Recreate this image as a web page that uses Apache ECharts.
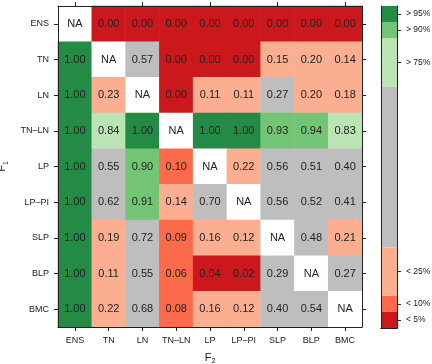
<!DOCTYPE html>
<html>
<head>
<meta charset="utf-8">
<script src="https://cdn.jsdelivr.net/npm/echarts@6/dist/echarts.min.js"></script>
<style>
  html, body { margin: 0; padding: 0; background: #fff; }
  #main { width: 432px; height: 364px; }
</style>
</head>
<body>
<div id="main"></div>
<script>
// F1 (rows, top to bottom) and F2 (columns, left to right)
var factors = ['ENS', 'TN', 'LN', 'TN\u2013LN', 'LP', 'LP\u2013PI', 'SLP', 'BLP', 'BMC'];

// one array per row of the matrix, null = NA on the diagonal
var rowENS  = [null, 0.00, 0.00, 0.00, 0.00, 0.00, 0.00, 0.00, 0.00];
var rowTN   = [1.00, null, 0.57, 0.00, 0.00, 0.00, 0.15, 0.20, 0.14];
var rowLN   = [1.00, 0.23, null, 0.00, 0.11, 0.11, 0.27, 0.20, 0.18];
var rowTNLN = [1.00, 0.84, 1.00, null, 1.00, 1.00, 0.93, 0.94, 0.83];
var rowLP   = [1.00, 0.55, 0.90, 0.10, null, 0.22, 0.56, 0.51, 0.40];
var rowLPPI = [1.00, 0.62, 0.91, 0.14, 0.70, null, 0.56, 0.52, 0.41];
var rowSLP  = [1.00, 0.19, 0.72, 0.09, 0.16, 0.12, null, 0.48, 0.21];
var rowBLP  = [1.00, 0.11, 0.55, 0.06, 0.04, 0.02, 0.29, null, 0.27];
var rowBMC  = [1.00, 0.22, 0.68, 0.08, 0.16, 0.12, 0.40, 0.54, null];
var matrix = [rowENS, rowTN, rowLN, rowTNLN, rowLP, rowLPPI, rowSLP, rowBLP, rowBMC];

// colour key, bottom to top
var breaks    = [0, 0.05, 0.10, 0.25, 0.75, 0.90, 0.95, 1];
var keyColors = ['#cb181d', '#fb6a4a', '#fcae91', '#bebebe', '#bae4b3', '#74c476', '#238b45'];
var keyLabels = ['< 5%', '< 10%', '< 25%', '', '> 75%', '> 90%', '> 95%'];

var ink = '#222';
var font = 'Liberation Sans, Arial, sans-serif';

function cellColor(v) {
    if (v < 0.05) return keyColors[0];
    if (v <= 0.10) return keyColors[1];
    if (v < 0.25) return keyColors[2];
    if (v <= 0.75) return keyColors[3];
    if (v < 0.895) return keyColors[4];
    if (v < 0.95) return keyColors[5];
    return keyColors[6];
}

var cells = [];
matrix.forEach(function (row, r) {
    row.forEach(function (v, c) {
        cells.push({
            value: [c, r, v === null ? 0 : v],
            na: v === null,
            itemStyle: { color: v === null ? '#ffffff' : cellColor(v) }
        });
    });
});

// colour key as stacked bars
var keyTicks = [], keyNames = {};
var keySeries = keyColors.map(function (col, i) {
    var mid = (breaks[i] + breaks[i + 1]) / 2;
    if (keyLabels[i]) {
        keyTicks.push(mid);
        keyNames[mid.toFixed(4)] = keyLabels[i];
    }
    return {
        type: 'bar', stack: 'key', xAxisIndex: 2, yAxisIndex: 2,
        barWidth: '100%', silent: true,
        itemStyle: { color: col },
        data: [breaks[i + 1] - breaks[i]]
    };
});

var lineStyle = { color: ink, width: 1 };
var tick = { show: true, alignWithLabel: true, length: 4, lineStyle: lineStyle };
var nameRich = { a: { fontSize: 11, color: ink }, b: { fontSize: 7, color: ink, padding: [8, 0, 0, 0] } };

var myChart = echarts.init(document.getElementById('main'));
var option = {
    animation: false,
    textStyle: { fontFamily: font },
    grid: [
        { left: 58, top: 6, width: 304, height: 321, outerBoundsMode: 'none', containLabel: false },
        { left: 381, top: 6, width: 16, height: 322, outerBoundsMode: 'none', containLabel: false }
    ],
    xAxis: [
        {
            type: 'category', gridIndex: 0, position: 'bottom', data: factors, z: 5,
            axisLine: { show: true, lineStyle: lineStyle }, axisTick: tick,
            axisLabel: { fontSize: 9, color: ink, margin: 9, interval: 0 },
            name: '{a|F}{b|2}', nameLocation: 'middle', nameGap: 23,
            nameTextStyle: { rich: nameRich }
        },
        {
            type: 'category', gridIndex: 0, position: 'top', data: factors, z: 5,
            axisLine: { show: true, lineStyle: lineStyle }, axisTick: tick,
            axisLabel: { show: false }
        },
        {
            type: 'category', gridIndex: 1, data: ['key'], z: 5,
            axisLine: { show: true, lineStyle: lineStyle }, axisTick: { show: false },
            axisLabel: { show: false }
        },
        {
            type: 'category', gridIndex: 1, position: 'top', data: ['key'], z: 5,
            axisLine: { show: true, lineStyle: lineStyle }, axisTick: { show: false },
            axisLabel: { show: false }
        }
    ],
    yAxis: [
        {
            type: 'category', gridIndex: 0, position: 'left', inverse: true, data: factors, z: 5,
            axisLine: { show: true, lineStyle: lineStyle }, axisTick: tick,
            axisLabel: { fontSize: 9, color: ink, margin: 9, interval: 0 },
            name: '{a|F}{b|1}', nameLocation: 'middle', nameGap: 47, nameRotate: 90,
            nameTextStyle: { rich: nameRich }
        },
        {
            type: 'category', gridIndex: 0, position: 'right', inverse: true, data: factors, z: 5,
            axisLine: { show: true, lineStyle: lineStyle }, axisTick: tick,
            axisLabel: { show: false }
        },
        {
            type: 'value', gridIndex: 1, position: 'right', min: 0, max: 1, z: 5,
            axisLine: { show: true, lineStyle: lineStyle },
            axisTick: { show: true, length: 4, lineStyle: lineStyle, customValues: keyTicks },
            axisLabel: {
                fontSize: 8.5, color: ink, margin: 9, customValues: keyTicks,
                formatter: function (v) { return keyNames[v.toFixed(4)] || ''; }
            },
            splitLine: { show: false }
        },
        {
            type: 'value', gridIndex: 1, position: 'left', min: 0, max: 1, z: 5,
            axisLine: { show: true, lineStyle: lineStyle }, axisTick: { show: false },
            axisLabel: { show: false }, splitLine: { show: false }
        }
    ],
    series: [
        {
            type: 'heatmap', xAxisIndex: 0, yAxisIndex: 0, silent: true,
            data: cells,
            label: {
                show: true, fontSize: 11, color: ink, fontFamily: font,
                formatter: function (p) { return p.data.na ? 'NA' : p.value[2].toFixed(2); }
            }
        }
    ].concat(keySeries)
};
myChart.setOption(option);
</script>
</body>
</html>
